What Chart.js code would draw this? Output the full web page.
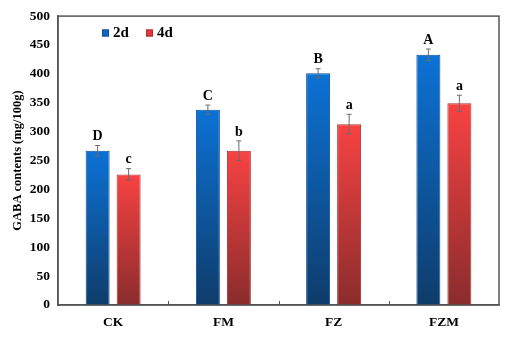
<!DOCTYPE html>
<html>
<head>
<meta charset="utf-8">
<script src="https://cdn.jsdelivr.net/npm/chart.js@4/dist/chart.umd.min.js"></script>
<style>
  html, body { margin: 0; padding: 0; background: #fff; }
  #wrap { width: 510px; height: 340px; }
</style>
</head>
<body>
<div id="wrap"><canvas id="myChart" width="510" height="340"></canvas></div>
<script>
// data
const categories = ['CK', 'FM', 'FZ', 'FZM']
const seriesNames = ['2d', '4d']
const values2d = [267, 338, 401, 433]
const values4d = [226, 267, 313, 349]
const err2d = [9, 8, 8, 10]
const err4d = [10, 17, 17, 14]
const letters2d = ['D', 'C', 'B', 'A']
const letters4d = ['c', 'b', 'a', 'a']
const yTicks = [0, 50, 100, 150, 200, 250, 300, 350, 400, 450, 500]

const FONT = '"Liberation Serif", "Times New Roman", serif'

// top -> bottom gradient colours per series
const shades = [
  { top: '#0c72d6', bottom: '#0f3c6a', edge: '#0b4f96', key: '#1565c0' },
  { top: '#f84242', bottom: '#8a2c2c', edge: '#a83030', key: '#e53935' }
]

function barGradient(dsIndex) {
  return function (ctx) {
    const chart = ctx.chart
    const area = chart.chartArea
    if (!area || ctx.raw == null) return shades[dsIndex].top
    const y = chart.scales.y.getPixelForValue(ctx.raw)
    const g = chart.ctx.createLinearGradient(0, y, 0, area.bottom)
    g.addColorStop(0, shades[dsIndex].top)
    g.addColorStop(1, shades[dsIndex].bottom)
    return g
  }
}

const errs = [err2d, err4d]
const letters = [letters2d, letters4d]

const extras = {
  id: 'extras',
  afterDatasetsDraw(chart) {
    const c = chart.ctx
    const yS = chart.scales.y
    const xS = chart.scales.x
    const area = chart.chartArea

    // error bars and significance letters
    chart.data.datasets.forEach((ds, di) => {
      const meta = chart.getDatasetMeta(di)
      meta.data.forEach((bar, i) => {
        const v = ds.data[i]
        const e = errs[di][i]
        const yHi = yS.getPixelForValue(v + e)
        const yLo = yS.getPixelForValue(v - e)
        c.save()
        c.strokeStyle = '#6b6b6b'
        c.lineWidth = 1
        c.beginPath()
        c.moveTo(bar.x, yHi)
        c.lineTo(bar.x, yLo)
        c.moveTo(bar.x - 2.5, yHi)
        c.lineTo(bar.x + 2.5, yHi)
        c.moveTo(bar.x - 2.5, yLo)
        c.lineTo(bar.x + 2.5, yLo)
        c.stroke()
        c.fillStyle = '#000'
        c.font = 'bold 14px ' + FONT
        c.textAlign = 'center'
        c.textBaseline = 'bottom'
        c.fillText(letters[di][i], bar.x, yHi - 2)
        c.restore()
      })
    })

    // frame
    c.save()
    c.strokeStyle = '#555'
    c.lineWidth = 1.5
    c.strokeRect(area.left, area.top, area.right - area.left, area.bottom - area.top)

    // small ticks between categories on the x axis
    c.lineWidth = 1
    c.strokeStyle = '#555'
    for (let i = 0; i < categories.length - 1; i++) {
      const xm = (xS.getPixelForValue(i) + xS.getPixelForValue(i + 1)) / 2
      c.beginPath()
      c.moveTo(Math.round(xm) + 0.5, area.bottom)
      c.lineTo(Math.round(xm) + 0.5, area.bottom - 4)
      c.stroke()
    }

    // legend
    c.font = 'bold 15px ' + FONT
    c.textBaseline = 'middle'
    c.textAlign = 'left'
    const lx = [102, 146]
    const ly = 33
    seriesNames.forEach((name, k) => {
      c.fillStyle = shades[k].key
      c.fillRect(lx[k], ly - 3.5, 7, 7)
      c.strokeStyle = shades[k].edge
      c.strokeRect(lx[k] + 0.5, ly - 3, 6, 6)
      c.fillStyle = '#000'
      c.fillText(name, lx[k] + 11, ly)
    })
    c.restore()
  }
}

const config = {
  type: 'bar',
  data: {
    labels: categories,
    datasets: [
      {
        label: seriesNames[0],
        data: values2d,
        backgroundColor: barGradient(0),
        borderColor: shades[0].edge,
        borderWidth: 1
      },
      {
        label: seriesNames[1],
        data: values4d,
        backgroundColor: barGradient(1),
        borderColor: shades[1].edge,
        borderWidth: 1
      }
    ]
  },
  options: {
    responsive: false,
    animation: false,
    categoryPercentage: 0.5624,
    barPercentage: 0.774,
    layout: { padding: { top: 16, right: 11, left: 0, bottom: 0 } },
    plugins: {
      legend: { display: false },
      tooltip: { enabled: false }
    },
    scales: {
      x: {
        grid: { display: false, drawTicks: false },
        border: { display: true, color: '#555', width: 1.5 },
        ticks: {
          color: '#000',
          font: { family: FONT, size: 13.5, weight: 'bold' },
          padding: 9
        },
        afterFit(scale) { scale.height = 35 }
      },
      y: {
        min: 0,
        max: 500,
        grid: { display: false, drawTicks: false },
        border: { display: true, color: '#555', width: 1.5 },
        afterBuildTicks(scale) { scale.ticks = yTicks.map(v => ({ value: v })) },
        ticks: {
          color: '#000',
          font: { family: FONT, size: 13.5, weight: 'bold' },
          padding: 8
        },
        title: {
          display: true,
          text: 'GABA contents (mg/100g)',
          color: '#000',
          font: { family: FONT, size: 12.5, weight: 'bold' },
          padding: { top: 10, bottom: 0 }
        },
        afterFit(scale) { scale.width = 58 }
      }
    }
  },
  plugins: [extras]
}

new Chart(document.getElementById('myChart'), config)
</script>
</body>
</html>
